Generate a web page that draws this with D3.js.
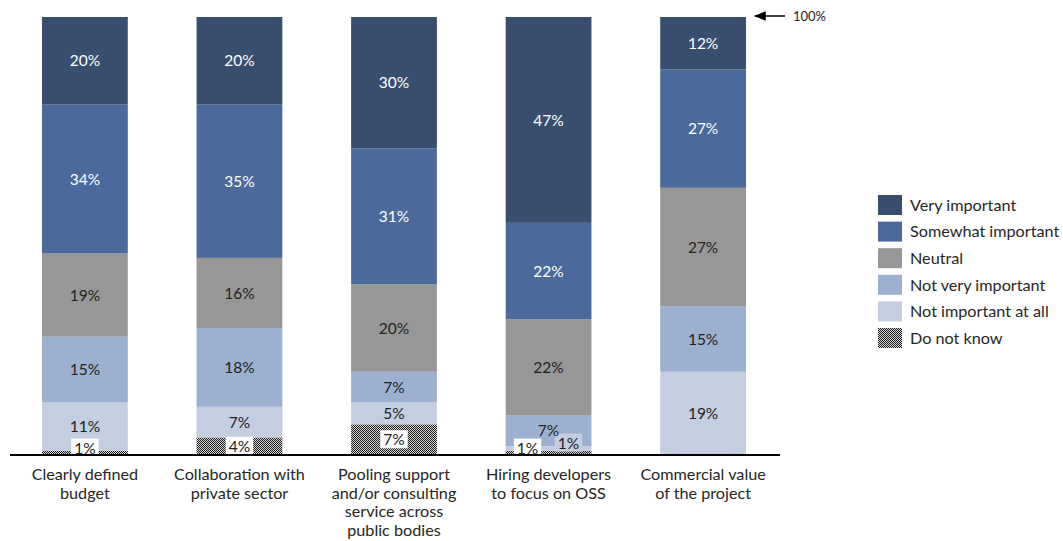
<!DOCTYPE html>
<html><head><meta charset="utf-8">
<script src="https://cdn.jsdelivr.net/npm/d3@7"></script>
<style>body{margin:0;background:#fff;} svg{display:block;font-family:Lato,"Open Sans",sans-serif;}</style>
</head><body><svg id="c" width="1063" height="541"></svg>
<script>
const categories = [
  ["Clearly defined","budget"],
  ["Collaboration with","private sector"],
  ["Pooling support","and/or consulting","service across","public bodies"],
  ["Hiring developers","to focus on OSS"],
  ["Commercial value","of the project"]
];
const seriesNames = ["Do not know","Not important at all","Not very important","Neutral","Somewhat important","Very important"];
const doNotKnow        = [1, 4, 7, 1, 0];
const notImportantAll  = [11, 7, 5, 1, 19];
const notVeryImportant = [15, 18, 7, 7, 15];
const neutral          = [19, 16, 20, 22, 27];
const somewhatImportant= [34, 35, 31, 22, 27];
const veryImportant    = [20, 20, 30, 47, 12];
const seriesValues = [doNotKnow, notImportantAll, notVeryImportant, neutral, somewhatImportant, veryImportant];
const colors = ["url(#checker)", "#c3cee1", "#9eb0cf", "#979797", "#4b6a9b", "#394e6f"];
const textColors = ["#222", "#222", "#222", "#222", "#fff", "#fff"];

const svg = d3.select("#c");
const defs = svg.append("defs");
const pat = defs.append("pattern").attr("id","checker").attr("width",4).attr("height",4).attr("patternUnits","userSpaceOnUse");
pat.append("rect").attr("width",4).attr("height",4).attr("fill","#d8d8d8");
[[0,0],[2,0],[1,1],[3,1],[0,2],[2,2],[1,3],[3,3]].forEach(([a,b])=>
  pat.append("rect").attr("x",a).attr("y",b).attr("width",1).attr("height",1).attr("fill","#1a1a1a").attr("shape-rendering","crispEdges"));

const x = d3.scaleBand().domain(d3.range(categories.length)).range([8, 780]).paddingInner(0.445).paddingOuter(0.22);
const y = d3.scaleLinear().domain([0,100]).range([455, 17]);

const stackData = categories.map((c,i)=>{ const o={i}; seriesNames.forEach((s,k)=>o[s]=seriesValues[k][i]); return o;});
const stacked = d3.stack().keys(seriesNames)(stackData);

stacked.forEach((layer,k)=>{
  svg.append("g").selectAll("rect").data(layer).join("rect")
    .attr("x", d=>x(d.data.i)).attr("width", x.bandwidth())
    .attr("y", d=>y(d[1])).attr("height", d=>y(d[0])-y(d[1]))
    .attr("fill", colors[k]);
});

// axis line
svg.append("line").attr("x1",10).attr("x2",780).attr("y1",y(0)).attr("y2",y(0)).attr("stroke","#000").attr("stroke-width",2);

// labels
stacked.forEach((layer,k)=>{
  layer.forEach(d=>{
    const v = d.data[seriesNames[k]];
    if (!v) return;
    const i = d.data.i;
    let cx = x(i) + x.bandwidth()/2;
    let cy = (y(d[0])+y(d[1]))/2;
    let box = null;
    if (k===0) { box = "#fff"; cy = Math.min(cy, 448); if (i===3) cx -= 21; }
    if (k===1 && i===3) { box = "#c3cee1"; cx += 20; cy = 443; }
    const g = svg.append("g");
    const t = g.append("text").attr("x",cx).attr("y",cy).attr("dy","0.36em")
      .attr("text-anchor","middle").attr("font-size",15.5).attr("fill", textColors[k]).text(v+"%");
    if (box) {
      const bb = t.node().getBBox();
      g.insert("rect","text").attr("x",bb.x-3).attr("y",bb.y).attr("width",bb.width+6).attr("height",Math.min(bb.height, y(0)-1-bb.y)).attr("fill",box);
    }
  });
});

// category labels
categories.forEach((lines,i)=>{
  const t = svg.append("text").attr("text-anchor","middle").attr("font-size",16.2).attr("fill","#262626");
  lines.forEach((l,j)=>t.append("tspan").attr("x", x(i)+x.bandwidth()/2).attr("y", 480 + j*18.5).text(l));
});

// 100% arrow
defs.append("marker").attr("id","ah").attr("viewBox","0 0 10 10").attr("refX",9).attr("refY",5)
  .attr("markerWidth",8).attr("markerHeight",8).attr("orient","auto")
  .append("path").attr("d","M0,1 L10,5 L0,9 Z").attr("fill","#000");
svg.append("line").attr("x1",785).attr("x2",755).attr("y1",y(100)-1).attr("y2",y(100)-1)
  .attr("stroke","#000").attr("stroke-width",1.5).attr("marker-end","url(#ah)");
svg.append("text").attr("x",793).attr("y",y(100)-1).attr("dy","0.36em").attr("font-size",13).attr("fill","#222").text("100%");

// legend
const legendOrder = [5,4,3,2,1,0];
legendOrder.forEach((k,j)=>{
  const ly = 205 + j*26.6;
  svg.append("rect").attr("x",878).attr("y",ly-10).attr("width",24).attr("height",20).attr("fill",colors[k]);
  svg.append("text").attr("x",910).attr("y",ly).attr("dy","0.36em").attr("font-size",16.2).attr("fill","#262626").text(seriesNames[k]);
});
</script></body></html>
